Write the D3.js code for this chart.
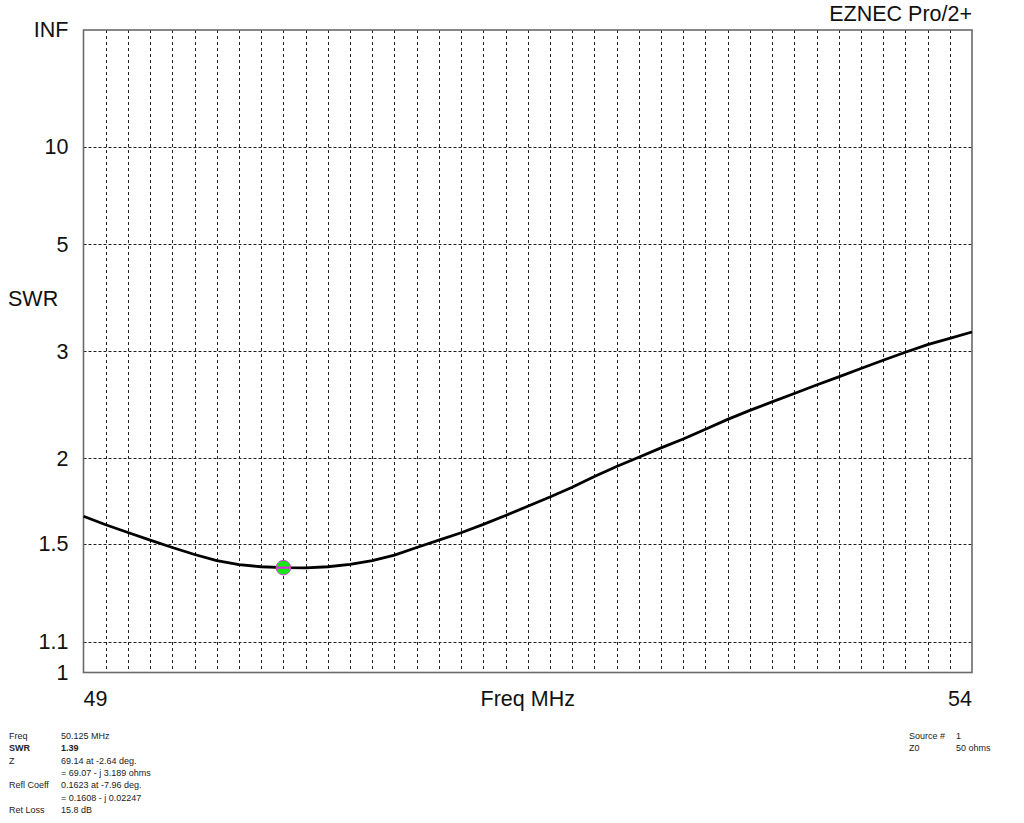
<!DOCTYPE html>
<html>
<head>
<meta charset="utf-8">
<script src="https://cdn.jsdelivr.net/npm/d3@7"></script>
<style>
  body { margin: 0; background: #fff; }
  svg { display: block; font-family: "Liberation Sans", Arial, sans-serif; }
</style>
</head>
<body>
<div id="chart"></div>
<script>
// frequency points (MHz), one per grid column
var freqs = [49.000, 49.125, 49.250, 49.375, 49.500, 49.625, 49.750, 49.875,
             50.000, 50.125, 50.250, 50.375, 50.500, 50.625, 50.750, 50.875,
             51.000, 51.125, 51.250, 51.375, 51.500, 51.625, 51.750, 51.875,
             52.000, 52.125, 52.250, 52.375, 52.500, 52.625, 52.750, 52.875,
             53.000, 53.125, 53.250, 53.375, 53.500, 53.625, 53.750, 53.875, 54.000];

// SWR
var swr = [1.643, 1.597, 1.557, 1.519, 1.483, 1.450, 1.422, 1.404,
           1.394, 1.390, 1.389, 1.394, 1.405, 1.422, 1.447, 1.483,
           1.519, 1.556, 1.599, 1.647, 1.698, 1.752, 1.810, 1.878,
           1.944, 2.008, 2.075, 2.142, 2.218, 2.300, 2.378, 2.455,
           2.535, 2.620, 2.705, 2.796, 2.891, 2.988, 3.085, 3.166, 3.255];

var yTickValues = [1, 1.1, 1.5, 2, 3, 5, 10, Infinity];
var yTickLabels = ["1", "1.1", "1.5", "2", "3", "5", "10", "INF"];
var xTickValues = [49, 54];

var marker = { freq: 50.125, swr: 1.39 };

var infoLeft = [
  ["Freq", "50.125 MHz", false],
  ["SWR", "1.39", true],
  ["Z", "69.14 at -2.64 deg.", false],
  ["", "= 69.07 - j 3.189 ohms", false],
  ["Refl Coeff", "0.1623 at -7.96 deg.", false],
  ["", "= 0.1608 - j 0.02247", false],
  ["Ret Loss", "15.8 dB", false]
];
var infoRight = [
  ["Source #", "1"],
  ["Z0", "50 ohms"]
];

// SWR is plotted linearly in reflection coefficient
function rho(s) { return s === Infinity ? 1 : (s - 1) / (s + 1); }

var W = 1024, H = 823;
var plotL = 83.5, plotR = 972, plotT = 30, plotB = 672.5;
var bigFont = "21.5px";

var svg = d3.select("#chart").append("svg")
  .attr("width", W)
  .attr("height", H);

var x = d3.scaleLinear().domain([49, 54]).range([plotL, plotR]);
var y = d3.scaleLinear().domain([0, 1]).range([plotB, plotT]);

// grid
var grid = svg.append("g");
grid.selectAll("line.v")
  .data(d3.range(1, 40).map(function(i) { return 49 + i * 0.125; }))
  .enter().append("line")
  .attr("class", "v")
  .attr("x1", function(d) { return Math.round(x(d)) + 0.5; })
  .attr("x2", function(d) { return Math.round(x(d)) + 0.5; })
  .attr("y1", plotT)
  .attr("y2", plotB)
  .attr("stroke", "#222")
  .attr("stroke-width", 1)
  .attr("stroke-dasharray", "3,3");

grid.selectAll("line.h")
  .data([1.1, 1.5, 2, 3, 5, 10])
  .enter().append("line")
  .attr("class", "h")
  .attr("x1", plotL)
  .attr("x2", plotR)
  .attr("y1", function(d) { return Math.round(y(rho(d))) + 0.5; })
  .attr("y2", function(d) { return Math.round(y(rho(d))) + 0.5; })
  .attr("stroke", "#222")
  .attr("stroke-width", 1)
  .attr("stroke-dasharray", "3,2");

// frame
svg.append("rect")
  .attr("x", plotL)
  .attr("y", plotT)
  .attr("width", plotR - plotL)
  .attr("height", plotB - plotT)
  .attr("fill", "none")
  .attr("stroke", "#6a6a6a")
  .attr("stroke-width", 1.6);

// y axis labels
var yAxis = d3.axisLeft(y)
  .tickValues(yTickValues.map(rho))
  .tickFormat(function(d, i) { return yTickLabels[i]; })
  .tickSize(0)
  .tickPadding(15);

var yg = svg.append("g")
  .attr("transform", "translate(" + plotL + ",0)")
  .call(yAxis);
yg.select(".domain").remove();
yg.selectAll("text")
  .style("font-size", bigFont)
  .style("font-family", "'Liberation Sans', Arial, sans-serif")
  .attr("fill", "#111");

// x labels
svg.selectAll("text.xlab")
  .data(xTickValues)
  .enter().append("text")
  .attr("class", "xlab")
  .attr("x", function(d) { return x(d); })
  .attr("y", 706)
  .attr("text-anchor", function(d, i) { return i === 0 ? "start" : "end"; })
  .style("font-size", bigFont)
  .attr("fill", "#111")
  .text(function(d) { return d; });

svg.append("text")
  .attr("x", (plotL + plotR) / 2)
  .attr("y", 706)
  .attr("text-anchor", "middle")
  .style("font-size", bigFont)
  .attr("fill", "#111")
  .text("Freq MHz");

svg.append("text")
  .attr("x", 8)
  .attr("y", 306)
  .style("font-size", bigFont)
  .attr("fill", "#111")
  .text("SWR");

svg.append("text")
  .attr("x", plotR)
  .attr("y", 21)
  .attr("text-anchor", "end")
  .style("font-size", bigFont)
  .attr("fill", "#111")
  .text("EZNEC Pro/2+");

// SWR curve
var line = d3.line()
  .x(function(d, i) { return x(freqs[i]); })
  .y(function(d) { return y(rho(d)); });

svg.append("path")
  .datum(swr)
  .attr("d", line)
  .attr("fill", "none")
  .attr("stroke", "#000")
  .attr("stroke-width", 2.8)
  .attr("stroke-linejoin", "round");

// marker
var mx = x(marker.freq), my = y(rho(marker.swr));
svg.append("circle")
  .attr("cx", mx)
  .attr("cy", my)
  .attr("r", 7.3)
  .attr("fill", "#19e619")
  .attr("stroke", "#e040e0")
  .attr("stroke-width", 1);
svg.append("line")
  .attr("x1", mx - 6.5)
  .attr("x2", mx + 6.5)
  .attr("y1", my)
  .attr("y2", my)
  .attr("stroke", "#ee22ee")
  .attr("stroke-width", 2);

// readout panel
var info = svg.append("g").style("font-size", "9px").attr("fill", "#222");
info.selectAll("g.row")
  .data(infoLeft)
  .enter().append("g")
  .attr("class", "row")
  .each(function(d, i) {
    var g = d3.select(this);
    var yy = 739 + i * 12.3;
    g.append("text").attr("x", 9).attr("y", yy)
      .style("font-weight", d[2] ? "bold" : "normal").text(d[0]);
    g.append("text").attr("x", 61).attr("y", yy)
      .style("font-weight", d[2] ? "bold" : "normal").text(d[1]);
  });

info.selectAll("g.rrow")
  .data(infoRight)
  .enter().append("g")
  .attr("class", "rrow")
  .each(function(d, i) {
    var g = d3.select(this);
    var yy = 739 + i * 11.5;
    g.append("text").attr("x", 909).attr("y", yy).text(d[0]);
    g.append("text").attr("x", 956).attr("y", yy).text(d[1]);
  });
</script>
</body>
</html>
